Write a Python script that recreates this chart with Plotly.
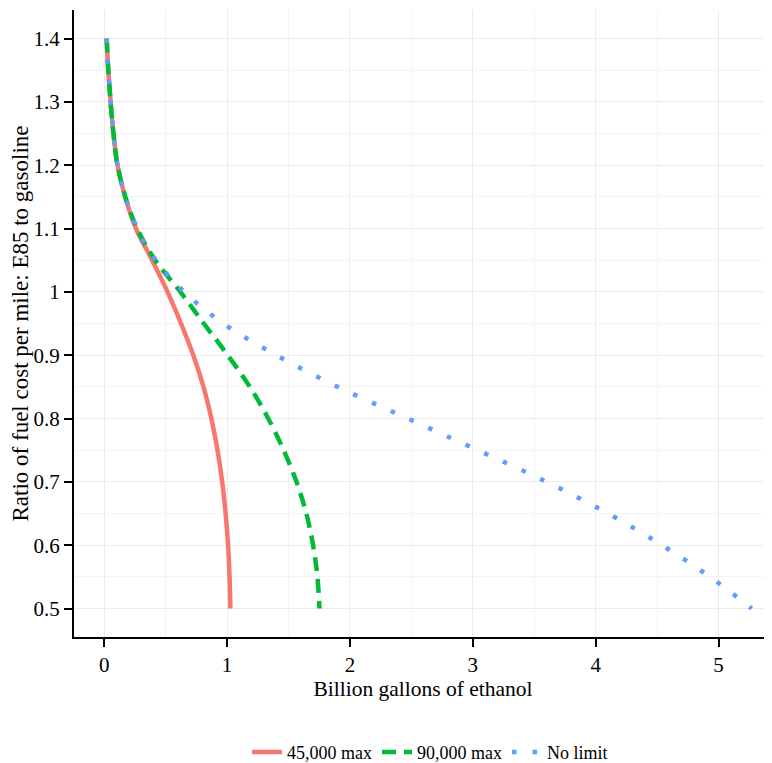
import plotly.graph_objects as go

# Ratio of fuel cost per mile (E85 / gasoline)
ratio = [1.40, 1.35, 1.30, 1.25, 1.20, 1.15, 1.10, 1.05, 1.00, 0.95,
         0.90, 0.85, 0.80, 0.75, 0.70, 0.65, 0.60, 0.55, 0.50]

# Billion gallons of ethanol for each scenario
gal_45k = [0.020, 0.033, 0.052, 0.075, 0.108, 0.170, 0.258, 0.390, 0.515, 0.625,
           0.725, 0.808, 0.872, 0.922, 0.960, 0.988, 1.008, 1.020, 1.027]
gal_90k = [0.020, 0.033, 0.052, 0.075, 0.108, 0.172, 0.268, 0.415, 0.620, 0.810,
           1.005, 1.185, 1.335, 1.460, 1.565, 1.645, 1.700, 1.735, 1.752]
gal_nolimit = [0.020, 0.033, 0.052, 0.075, 0.108, 0.172, 0.268, 0.420, 0.650, 0.970,
               1.400, 1.900, 2.470, 3.040, 3.600, 4.100, 4.540, 4.930, 5.270]

series_names = ["45,000 max", "90,000 max", "No limit"]

x_ticks = [0, 1, 2, 3, 4, 5]
x_ticktext = ["0", "1", "2", "3", "4", "5"]
y_ticks = [0.5, 0.6, 0.7, 0.8, 0.9, 1.0, 1.1, 1.2, 1.3, 1.4]
y_ticktext = ["0.5", "0.6", "0.7", "0.8", "0.9", "1", "1.1", "1.2", "1.3", "1.4"]

SERIF = "Liberation Serif"

fig = go.Figure()
fig.add_trace(go.Scatter(
    x=gal_45k, y=ratio, mode="lines", name=series_names[0],
    line=dict(color="#F8766D", width=4.5, shape="spline", smoothing=1.0),
))
fig.add_trace(go.Scatter(
    x=gal_90k, y=ratio, mode="lines", name=series_names[1],
    line=dict(color="#00BA38", width=4.5, dash="14px,8px", shape="spline", smoothing=1.0),
))
fig.add_trace(go.Scatter(
    x=gal_nolimit, y=ratio, mode="lines", name=series_names[2],
    line=dict(color="#619CFF", width=4.5, dash="4.5px,16px", shape="spline", smoothing=1.0),
))

fig.update_layout(
    width=764, height=755,
    margin=dict(l=66, r=0, t=1.5, b=125.5, autoexpand=False),
    paper_bgcolor="white", plot_bgcolor="white",
    font=dict(family=SERIF, color="black", size=21),
    showlegend=True,
    legend=dict(
        orientation="h", x=0.510, xanchor="center", y=-0.184, yanchor="middle",
        font=dict(family=SERIF, size=18, color="black"),
        itemwidth=30, bgcolor="rgba(0,0,0,0)",
    ),
    xaxis=dict(
        range=[-0.246, 5.435], automargin=False,
        tickmode="array", tickvals=x_ticks, ticktext=x_ticktext,
        ticks="outside", ticklen=8, tickwidth=1.5, tickcolor="black",
        showline=True, linecolor="black", linewidth=2,
        showgrid=True, gridcolor="#ebebeb", gridwidth=1,
        minor=dict(dtick=0.5, tick0=0, showgrid=True, gridcolor="#f4f4f4", gridwidth=0.8),
        zeroline=False,
        tickfont=dict(family=SERIF, size=21, color="black"),
        title=dict(text="Billion gallons of ethanol",
                   font=dict(family=SERIF, size=21.5, color="black"), standoff=2),
    ),
    yaxis=dict(
        range=[0.455, 1.445], automargin=False,
        tickmode="array", tickvals=y_ticks, ticktext=y_ticktext,
        ticks="outside", ticklen=8, tickwidth=1.5, tickcolor="black",
        showline=True, linecolor="black", linewidth=2,
        showgrid=True, gridcolor="#ebebeb", gridwidth=1,
        minor=dict(dtick=0.05, tick0=0.5, showgrid=True, gridcolor="#f4f4f4", gridwidth=0.8),
        zeroline=False,
        tickfont=dict(family=SERIF, size=21, color="black"),
        title=dict(text="Ratio of fuel cost per mile: E85 to gasoline",
                   font=dict(family=SERIF, size=23, color="black"), standoff=4),
    ),
)

fig.write_html("out.html")
